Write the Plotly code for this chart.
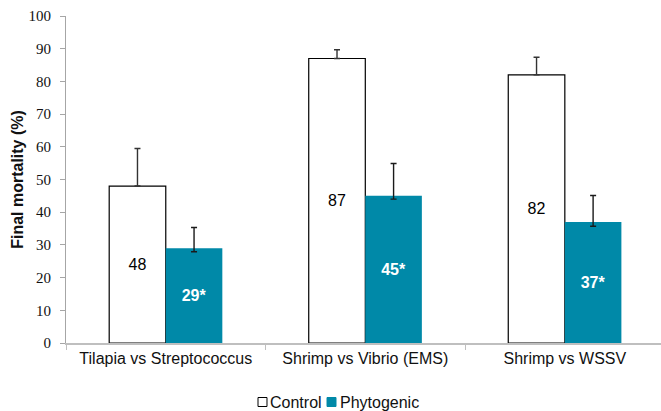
import plotly.graph_objects as go

# Challenge trials and final mortality (%)
categories = ["Tilapia vs Streptococcus", "Shrimp vs Vibrio (EMS)", "Shrimp vs WSSV"]
control = [48, 87, 82]
phytogenic = [29, 45, 37]
control_err_plus = [11.5, 2.7, 5.4]
control_err_minus = [0, 0, 0]
phyto_err_plus = [6.3, 9.9, 8.1]
phyto_err_minus = [1.1, 1.0, 1.3]
phyto_significant = [True, True, True]
y_ticks = list(range(0, 101, 10))

TEAL = "#0089A8"
SANS = "Liberation Sans, Arial, sans-serif"
SERIF = "Liberation Serif, Times New Roman, serif"

control_text = [str(v) for v in control]
phyto_text = [f"<b>{v}{'*' if s else ''}</b>" for v, s in zip(phytogenic, phyto_significant)]

fig = go.Figure()
fig.add_trace(go.Bar(
    name="Control", x=categories, y=control,
    marker=dict(color="white", line=dict(color="black", width=1.2)),
    text=control_text, textposition="inside", insidetextanchor="middle", textangle=0,
    textfont=dict(family=SANS, size=16, color="black"),
    error_y=dict(type="data", symmetric=False, array=control_err_plus,
                 arrayminus=control_err_minus, color="#333333", thickness=1.4, width=3),
    showlegend=False,
))
fig.add_trace(go.Bar(
    name="Phytogenic", x=categories, y=phytogenic,
    marker=dict(color=TEAL, line=dict(width=0)),
    text=phyto_text, textposition="inside", insidetextanchor="middle", textangle=0,
    textfont=dict(family=SANS, size=16, color="white"),
    error_y=dict(type="data", symmetric=False, array=phyto_err_plus,
                 arrayminus=phyto_err_minus, color="#1a1a1a", thickness=1.4, width=3),
    showlegend=False,
))

# Compact legend: small squares right next to their labels
legend_items = [("Control", "white", "black", 0.3227, 0.3412),
                ("Phytogenic", TEAL, TEAL, 0.4387, 0.4588)]
for label, fill, edge, sx, tx in legend_items:
    fig.add_shape(type="rect", xref="paper", yref="paper",
                  x0=sx, x1=sx + 0.0151, y0=-0.1667, y1=-0.1942,
                  fillcolor=fill, line=dict(color=edge, width=1))
    fig.add_annotation(text=label, xref="paper", yref="paper", x=tx - 0.002, y=-0.181,
                       xanchor="left", yanchor="middle", showarrow=False,
                       font=dict(family=SANS, size=16, color="#111111"))

fig.update_layout(
    width=661, height=411,
    margin=dict(l=66, r=0, t=16, b=68),
    paper_bgcolor="white", plot_bgcolor="white",
    barmode="group", bargap=0.433, bargroupgap=0,
    font=dict(family=SANS, color="#111111"),
    xaxis=dict(
        range=[-0.5, 2.482], showline=True, linecolor="#BFBFBF", linewidth=2,
        ticks="outside", tickson="boundaries", ticklen=5, tickcolor="#BFBFBF", tickwidth=1,
        showgrid=False, tickfont=dict(family=SANS, size=16, color="#111111"),
    ),
    yaxis=dict(
        range=[0, 100], tickvals=y_ticks, showline=True, linecolor="#A6A6A6", linewidth=1,
        ticks="outside", ticklen=5, tickcolor="#A6A6A6", showgrid=False, zeroline=False,
        tickfont=dict(family=SERIF, size=15, color="#111111"), ticklabelstandoff=6,
        title=dict(text="<b>Final mortality (%)</b>", font=dict(family=SANS, size=16, color="#111111"),
                   standoff=0),
    ),
)

fig.write_html("out.html")
